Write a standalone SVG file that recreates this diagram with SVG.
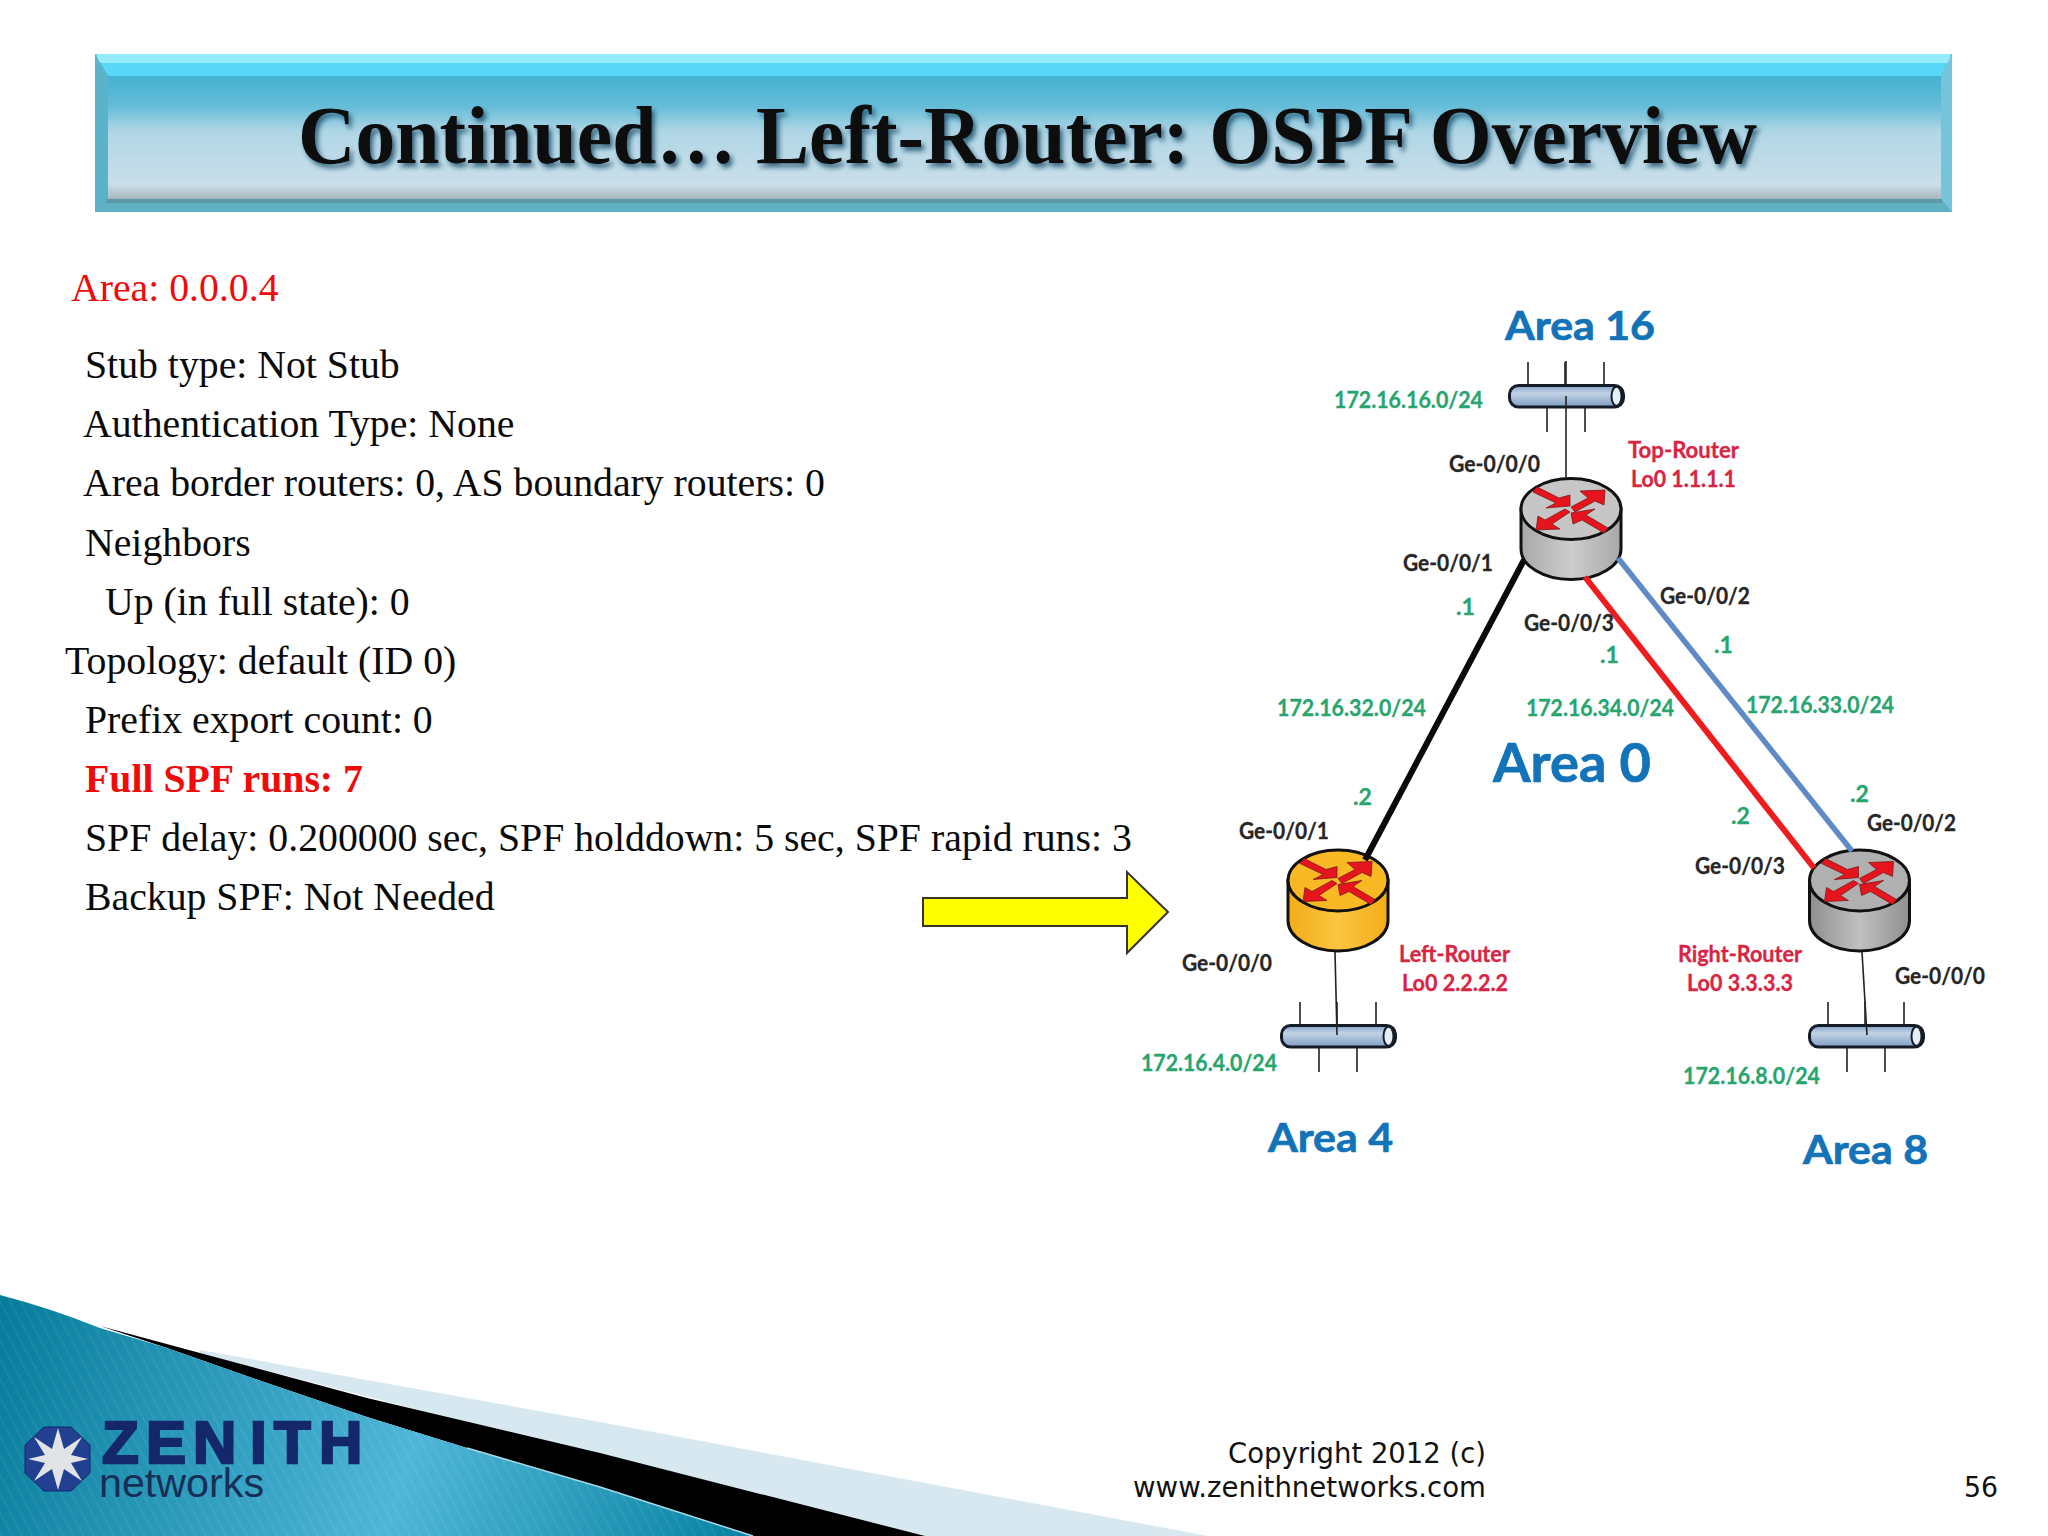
<svg xmlns="http://www.w3.org/2000/svg" width="2048" height="1536" viewBox="0 0 2048 1536">
<style>
.body{font-family:"Liberation Serif","Times New Roman",serif;font-size:39.75px;fill:#0a0a0a}
.lab{font-family:Lato,"Open Sans",sans-serif;font-weight:700}
.ge{font-size:23px;fill:#262626;stroke:#262626;stroke-width:.3}
.net{font-size:23px;fill:#27a56f;stroke:#27a56f;stroke-width:.3}
.rt{font-size:23px;fill:#d92443;stroke:#d92443;stroke-width:.3}
.area{font-size:41px;fill:#1273b8;stroke:#1273b8;stroke-width:.7}
.tick{stroke:#222;stroke-width:1.6;fill:none}
.foot{font-family:"DejaVu Sans",Verdana,sans-serif;font-size:28px;fill:#111}
.rline{stroke:#111;stroke-width:3}
.arr{fill:#e6141c;stroke:#7c1a1a;stroke-width:.8}
</style>
<defs>
<linearGradient id="ban" x1="0" y1="0" x2="0" y2="1">
<stop offset="0" stop-color="#44b2d2"/><stop offset=".25" stop-color="#66bdd8"/><stop offset=".45" stop-color="#b0d6e6"/><stop offset=".88" stop-color="#cadfea"/><stop offset="1" stop-color="#a9b5bd"/>
</linearGradient>
<linearGradient id="busG" x1="0" y1="0" x2="0" y2="1"><stop offset="0" stop-color="#7f9fc4"/><stop offset=".35" stop-color="#c3d3e6"/><stop offset="1" stop-color="#7f9ec2"/></linearGradient>
<linearGradient id="g1" x1="0" y1="0" x2="1" y2="0"><stop offset="0" stop-color="#a8a8a8"/><stop offset=".5" stop-color="#cdcdcd"/><stop offset="1" stop-color="#a8a8a8"/></linearGradient>
<linearGradient id="g2" x1="0" y1="0" x2="1" y2="0"><stop offset="0" stop-color="#8f8f8f"/><stop offset=".5" stop-color="#c0c0c0"/><stop offset="1" stop-color="#8f8f8f"/></linearGradient>
<linearGradient id="g3" x1="0" y1="0" x2="1" y2="0"><stop offset="0" stop-color="#f2ac18"/><stop offset=".5" stop-color="#fbc640"/><stop offset="1" stop-color="#f2ac18"/></linearGradient>
<linearGradient id="sw" gradientUnits="userSpaceOnUse" x1="0" y1="1300" x2="760" y2="1536"><stop offset="0" stop-color="#067b9b"/><stop offset=".55" stop-color="#4fb6d8"/><stop offset="1" stop-color="#05809f"/></linearGradient>
<pattern id="stripes" width="9" height="9" patternUnits="userSpaceOnUse" patternTransform="rotate(-28)"><line x1="0" y1="0" x2="0" y2="9" stroke="#ffffff" stroke-opacity=".07" stroke-width="3"/></pattern>
<filter id="sh" x="-5%" y="-30%" width="110%" height="160%"><feDropShadow dx="3" dy="4" stdDeviation="2.500" flood-color="#1a4a66" flood-opacity=".8"/></filter>
<g id="arrows">
<polygon class="arr" points="-38,-17 -34,-22 -12,-11 -1,-14 -1,-3 -25,-1 -15,-6"/>
<polygon class="arr" points="0,-2 17,-11 9,-18 34,-19 33,-4 24,-8 4,3"/>
<polygon class="arr" points="-35,21 -33,7 -26,11 -6,0 -1,3 -19,15 -11,20"/>
<polygon class="arr" points="0,4 24,0 15,6 37,19 33,24 11,11 2,15"/>
</g>
<g id="bus">
<line class="tick" x1="19" y1="-22" x2="19" y2="0"/><line class="tick" x1="56" y1="-22" x2="56" y2="0"/><line class="tick" x1="95" y1="-22" x2="95" y2="0"/>
<line class="tick" x1="38" y1="24" x2="38" y2="48"/><line class="tick" x1="76" y1="24" x2="76" y2="48"/>
<rect x=".5" y="1.500" width="114" height="21.500" rx="9" fill="url(#busG)" stroke="#141c28" stroke-width="3"/>
<ellipse cx="107.500" cy="12.200" rx="5" ry="9.500" fill="#e6eef6" stroke="#141c28" stroke-width="2"/>
</g>
</defs>
<rect width="2048" height="1536" fill="#fff"/>
<g id="banner">
<rect x="95" y="54" width="1857" height="158" fill="#5fb0c2"/>
<polygon points="95,54 1952,54 1941,76 108,76" fill="#58d8f6"/>
<rect x="97" y="54" width="1853" height="9" fill="#93ecf8"/>
<polygon points="95,54 108,76 108,199 95,212" fill="#5ab3c8"/>
<polygon points="1952,54 1941,76 1941,199 1952,212" fill="#74c5da"/>
<polygon points="108,199 1941,199 1952,212 95,212" fill="#5fb0c2"/>
<rect x="106" y="199" width="1836" height="4" fill="#5a99a6"/>
<rect x="108" y="76" width="1833" height="123" fill="url(#ban)"/>
<text x="298" y="163" font-family="Liberation Serif,'Times New Roman',serif" font-weight="700" font-size="82" fill="#0a0a10" textLength="1459" lengthAdjust="spacingAndGlyphs" filter="url(#sh)">Continued… Left-Router: OSPF Overview</text>
</g>
<g id="text">
<text class="body" x="71" y="301" style="fill:#f00a0a">Area: 0.0.0.4</text>
<text class="body" x="85" y="378">Stub type: Not Stub</text>
<text class="body" x="83" y="437">Authentication Type: None</text>
<text class="body" x="83" y="496">Area border routers: 0, AS boundary routers: 0</text>
<text class="body" x="85" y="556">Neighbors</text>
<text class="body" x="105" y="615">Up (in full state): 0</text>
<text class="body" x="65" y="674">Topology: default (ID 0)</text>
<text class="body" x="85" y="733">Prefix export count: 0</text>
<text class="body" x="85" y="792" font-weight="700" style="fill:#f00a0a">Full SPF runs: 7</text>
<text class="body" x="85" y="851">SPF delay: 0.200000 sec, SPF holddown: 5 sec, SPF rapid runs: 3</text>
<text class="body" x="85" y="910">Backup SPF: Not Needed</text>
</g>
<polygon id="pointer" points="923,898 1127,898 1127,872 1168,912 1127,953 1127,926 923,926" fill="#ffff00" stroke="#333" stroke-width="2"/>
<g id="bus16"><use href="#bus" x="1509" y="384"/></g>
<g id="bus4"><use href="#bus" x="1281" y="1024"/></g>
<g id="bus8"><use href="#bus" x="1809" y="1024"/></g>
<g id="top-router" transform="translate(1571,509)">
<path d="M-50,0V40A50,30.500 0 0 0 50,40V0Z" fill="url(#g1)" class="rline"/>
<ellipse rx="50" ry="30.500" fill="#c6c6c6" class="rline"/>
<use href="#arrows"/>
</g>
<g id="left-router" transform="translate(1338,880.500)">
<path d="M-50,0V40A50,30.500 0 0 0 50,40V0Z" fill="url(#g3)" class="rline"/>
<ellipse rx="50" ry="30.500" fill="#f8b924" class="rline"/>
<use href="#arrows"/>
</g>
<g id="right-router" transform="translate(1859.500,880.500)">
<path d="M-50,0V40A50,30.500 0 0 0 50,40V0Z" fill="url(#g2)" class="rline"/>
<ellipse rx="50" ry="30.500" fill="#b0b0b0" class="rline"/>
<use href="#arrows"/>
</g>
<g id="connectors" fill="none">
<line x1="1566" y1="361" x2="1566" y2="384" stroke="#222" stroke-width="1.6"/>
<line x1="1566" y1="396" x2="1566" y2="478" stroke="#222" stroke-width="1.6"/>
<line x1="1335" y1="952" x2="1337" y2="1035" stroke="#222" stroke-width="1.6"/>
<line x1="1862" y1="952" x2="1867" y2="1035" stroke="#222" stroke-width="1.6"/>
<line x1="1524" y1="560" x2="1365" y2="860" stroke="#0a0a0a" stroke-width="6"/>
<line x1="1585" y1="577" x2="1814" y2="868" stroke="#ee1c1c" stroke-width="6"/>
<line x1="1618" y1="558" x2="1852" y2="851" stroke="#5f8ac6" stroke-width="5.500"/>
</g>
<g id="labels" class="lab" transform="translate(0,.5)">
<text class="area" x="1505" y="339" textLength="150" lengthAdjust="spacingAndGlyphs">Area 16</text>
<text class="area" x="1493" y="781" textLength="158" lengthAdjust="spacingAndGlyphs" style="font-size:54px">Area 0</text>
<text class="area" x="1268" y="1151" textLength="125" lengthAdjust="spacingAndGlyphs">Area 4</text>
<text class="area" x="1803" y="1163" textLength="125" lengthAdjust="spacingAndGlyphs">Area 8</text>
<text class="net" x="1334" y="407" textLength="149" lengthAdjust="spacingAndGlyphs">172.16.16.0/24</text>
<text class="net" x="1277" y="715" textLength="149" lengthAdjust="spacingAndGlyphs">172.16.32.0/24</text>
<text class="net" x="1526" y="715" textLength="148" lengthAdjust="spacingAndGlyphs">172.16.34.0/24</text>
<text class="net" x="1746" y="712" textLength="148" lengthAdjust="spacingAndGlyphs">172.16.33.0/24</text>
<text class="net" x="1141" y="1070" textLength="136" lengthAdjust="spacingAndGlyphs">172.16.4.0/24</text>
<text class="net" x="1683" y="1083" textLength="137" lengthAdjust="spacingAndGlyphs">172.16.8.0/24</text>
<text class="net" x="1456" y="614">.1</text>
<text class="net" x="1600" y="662">.1</text>
<text class="net" x="1714" y="652">.1</text>
<text class="net" x="1353" y="804">.2</text>
<text class="net" x="1731" y="823">.2</text>
<text class="net" x="1850" y="801">.2</text>
<text class="ge" x="1449" y="471" textLength="91" lengthAdjust="spacingAndGlyphs">Ge-0/0/0</text>
<text class="ge" x="1403" y="570" textLength="90" lengthAdjust="spacingAndGlyphs">Ge-0/0/1</text>
<text class="ge" x="1524" y="630" textLength="90" lengthAdjust="spacingAndGlyphs">Ge-0/0/3</text>
<text class="ge" x="1660" y="603" textLength="90" lengthAdjust="spacingAndGlyphs">Ge-0/0/2</text>
<text class="ge" x="1239" y="838" textLength="90" lengthAdjust="spacingAndGlyphs">Ge-0/0/1</text>
<text class="ge" x="1182" y="970" textLength="90" lengthAdjust="spacingAndGlyphs">Ge-0/0/0</text>
<text class="ge" x="1867" y="830" textLength="89" lengthAdjust="spacingAndGlyphs">Ge-0/0/2</text>
<text class="ge" x="1695" y="873" textLength="90" lengthAdjust="spacingAndGlyphs">Ge-0/0/3</text>
<text class="ge" x="1895" y="983" textLength="90" lengthAdjust="spacingAndGlyphs">Ge-0/0/0</text>
<text class="rt" x="1628" y="457" textLength="111" lengthAdjust="spacingAndGlyphs">Top-Router</text>
<text class="rt" x="1631" y="486" textLength="105" lengthAdjust="spacingAndGlyphs">Lo0 1.1.1.1</text>
<text class="rt" x="1399" y="961" textLength="111" lengthAdjust="spacingAndGlyphs">Left-Router</text>
<text class="rt" x="1402" y="990" textLength="106" lengthAdjust="spacingAndGlyphs">Lo0 2.2.2.2</text>
<text class="rt" x="1678" y="961" textLength="124" lengthAdjust="spacingAndGlyphs">Right-Router</text>
<text class="rt" x="1687" y="990" textLength="106" lengthAdjust="spacingAndGlyphs">Lo0 3.3.3.3</text>
</g>
<g id="swoosh">
<path d="M200,1350L600,1422L1000,1497L1208,1536H900L200,1353Z" fill="#d8e8f1"/>
<path d="M100,1326L200,1353L367,1398L600,1453L925,1536H753L600,1487L467,1448L367,1417L267,1383L167,1348Z" fill="#000"/>
<path d="M0,1295Q50,1308 100,1328L167,1348L267,1383L367,1417L467,1448L600,1487L753,1536H0Z" fill="url(#sw)"/>
<path d="M0,1295Q50,1308 100,1328L167,1348L267,1383L367,1417L467,1448L600,1487L753,1536H0Z" fill="url(#stripes)"/>
<path d="M467,1448L600,1487L753,1536" fill="none" stroke="#a8d8e8" stroke-width="1.500"/>
</g>
<g id="logo">
<polygon points="44,1427 71,1427 90,1445 90,1473 71,1491 44,1491 25,1473 25,1445" fill="#22408f" stroke="#14276b"/>
<polygon points="58,1428 64,1449 82,1437 71,1455 88,1459 71,1463 82,1481 64,1469 58,1490 52,1469 34,1481 45,1463 28,1459 45,1455 34,1437 52,1449" fill="#e2e3e6"/>
<text x="102 146 193 250 274 319" y="1463" font-family="Liberation Sans,Arial,sans-serif" font-weight="700" font-size="60" fill="#14276b" stroke="#14276b" stroke-width="2.500">ZENITH</text>
<text x="99" y="1497" font-family="Liberation Sans,Arial,sans-serif" font-size="40" fill="#172f58" textLength="165" lengthAdjust="spacingAndGlyphs">networks</text>
</g>
<g id="footer">
<text class="foot" x="1228" y="1463" textLength="258" lengthAdjust="spacingAndGlyphs">Copyright 2012 (c)</text>
<text class="foot" x="1133" y="1497" textLength="353" lengthAdjust="spacingAndGlyphs">www.zenithnetworks.com</text>
<text class="foot" x="1964" y="1497" textLength="34" lengthAdjust="spacingAndGlyphs">56</text>
</g>
</svg>
